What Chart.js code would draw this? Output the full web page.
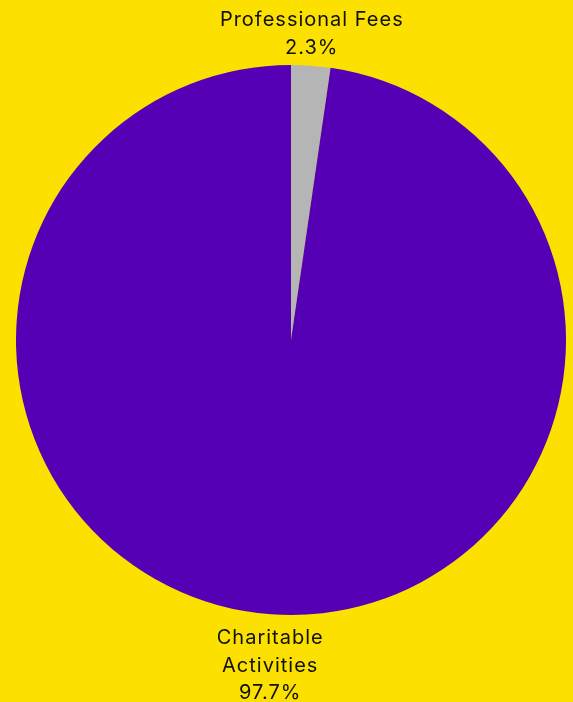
<!DOCTYPE html>
<html>
<head>
<meta charset="utf-8">
<script src="https://cdn.jsdelivr.net/npm/chart.js@4.4.1/dist/chart.umd.min.js"></script>
<style>
  html, body { margin: 0; padding: 0; background: #fce100; }
  #wrap { width: 573px; height: 702px; position: relative; }
</style>
</head>
<body>
<div id="wrap"><canvas id="pie-chart"></canvas></div>
<script>
const labels = [['Professional Fees'], ['Charitable', 'Activities']];
const values = [2.3, 97.7];
const colors = ['#b5b5b5', '#5500b5'];

// labels drawn outside the pie, anchored on the edge nearest the slice
const outsideLabels = {
    id: 'outsideLabels',
    afterDatasetsDraw(chart) {
        const ctx = chart.ctx;
        const meta = chart.getDatasetMeta(0);
        const total = values.reduce((a, b) => a + b, 0);
        const lineH = 27.5;
        const capH = 17;
        ctx.save();
        ctx.fillStyle = '#111111';
        ctx.font = '20px Inter';
        ctx.letterSpacing = '1px';
        ctx.textAlign = 'center';
        ctx.textBaseline = 'alphabetic';
        meta.data.forEach((arc, i) => {
            const mid = (arc.startAngle + arc.endAngle) / 2;
            const r = arc.outerRadius + 13;
            const x = arc.x + Math.cos(mid) * r;
            const y = arc.y + Math.sin(mid) * r;
            const lines = labels[i].concat([(values[i] / total * 100).toFixed(1) + '%']);
            let first;
            if (Math.sin(mid) < 0) {
                first = y - (lines.length - 1) * lineH + 1;
            } else {
                first = y + capH;
            }
            lines.forEach((txt, j) => ctx.fillText(txt, x, first + j * lineH));
        });
        ctx.restore();
    }
};

new Chart(document.querySelector('#pie-chart'), {
    type: 'pie',
    data: {
        labels: labels.map(l => l.join(' ')),
        datasets: [{
            data: values,
            backgroundColor: colors,
            borderWidth: 0
        }]
    },
    options: {
        responsive: true,
        maintainAspectRatio: false,
        animation: false,
        layout: {
            padding: { left: 16, right: 7, top: 65, bottom: 87 }
        },
        plugins: {
            legend: { display: false },
            tooltip: { enabled: false }
        }
    },
    plugins: [outsideLabels]
});
</script>
</body>
</html>
